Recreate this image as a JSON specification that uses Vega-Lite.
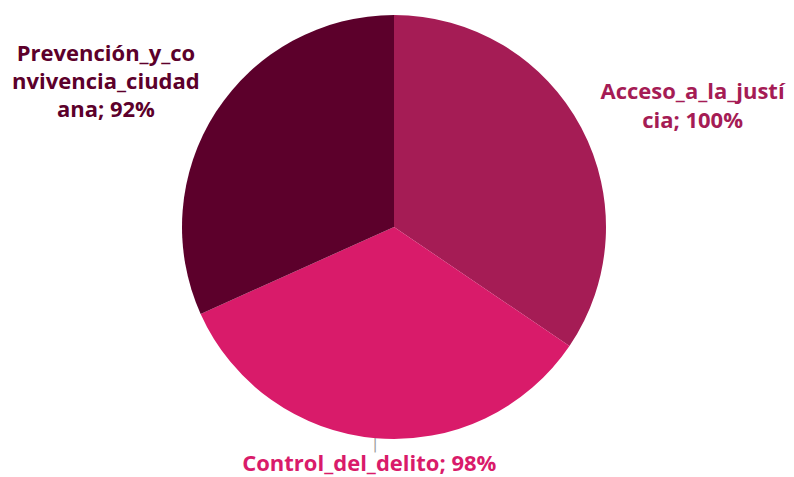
{
  "$schema": "https://vega.github.io/schema/vega-lite/v6.json",
  "width": 788,
  "height": 454,
  "padding": {"left": 0, "top": 0, "right": 6, "bottom": 23},
  "autosize": {"type": "none"},
  "background": "white",
  "view": {"stroke": null},
  "data": {
    "values": [
      {"categoria": "Acceso_a_la_justícia", "valor": 100, "orden": 1, "etiqueta": "Acceso_a_la_justí\ncia; 100%"},
      {"categoria": "Control_del_delito", "valor": 98, "orden": 2, "etiqueta": "Control_del_delito; 98%"},
      {"categoria": "Prevención_y_convivencia_ciudadana", "valor": 92, "orden": 3, "etiqueta": "Prevención_y_co\nnvivencia_ciudad\nana; 92%"}
    ]
  },
  "encoding": {
    "theta": {"field": "valor", "type": "quantitative", "stack": true},
    "order": {"field": "orden", "type": "ordinal"},
    "color": {
      "field": "categoria",
      "type": "nominal",
      "legend": null,
      "scale": {
        "domain": ["Acceso_a_la_justícia", "Control_del_delito", "Prevención_y_convivencia_ciudadana"],
        "range": ["#A51C55", "#D91B6A", "#5C002B"]
      }
    }
  },
  "layer": [
    {"mark": {"type": "arc", "outerRadius": 212, "stroke": null}},
    {
      "mark": {"type": "text", "radius": 219, "text": "|", "fontSize": 14, "font": "DejaVu Sans", "align": "center", "baseline": "middle", "fontWeight": "normal"},
      "encoding": {
        "opacity": {"condition": {"test": "datum.orden == 2", "value": 1}, "value": 0},
        "color": {"value": "#9a9a9a"}
      }
    },
    {
      "mark": {"type": "text", "radius": 330, "dx": 7, "dy": 20, "lineBreak": "\n", "lineHeight": 29, "fontSize": 22, "font": "Open Sans", "fontWeight": "bold", "align": "center", "baseline": "middle"},
      "encoding": {
        "text": {"condition": {"test": "datum.orden == 1", "field": "etiqueta"}, "value": ""}
      }
    },
    {
      "mark": {"type": "text", "radius": 239, "dx": -4, "dy": -1, "lineBreak": "\n", "lineHeight": 27, "fontSize": 22, "font": "Open Sans", "fontWeight": "bold", "align": "center", "baseline": "middle"},
      "encoding": {
        "text": {"condition": {"test": "datum.orden == 2", "field": "etiqueta"}, "value": ""}
      }
    },
    {
      "mark": {"type": "text", "radius": 330, "dx": -11, "dy": 6, "lineBreak": "\n", "lineHeight": 28, "fontSize": 22, "font": "Open Sans", "fontWeight": "bold", "align": "center", "baseline": "middle"},
      "encoding": {
        "text": {"condition": {"test": "datum.orden == 3", "field": "etiqueta"}, "value": ""}
      }
    }
  ]
}
